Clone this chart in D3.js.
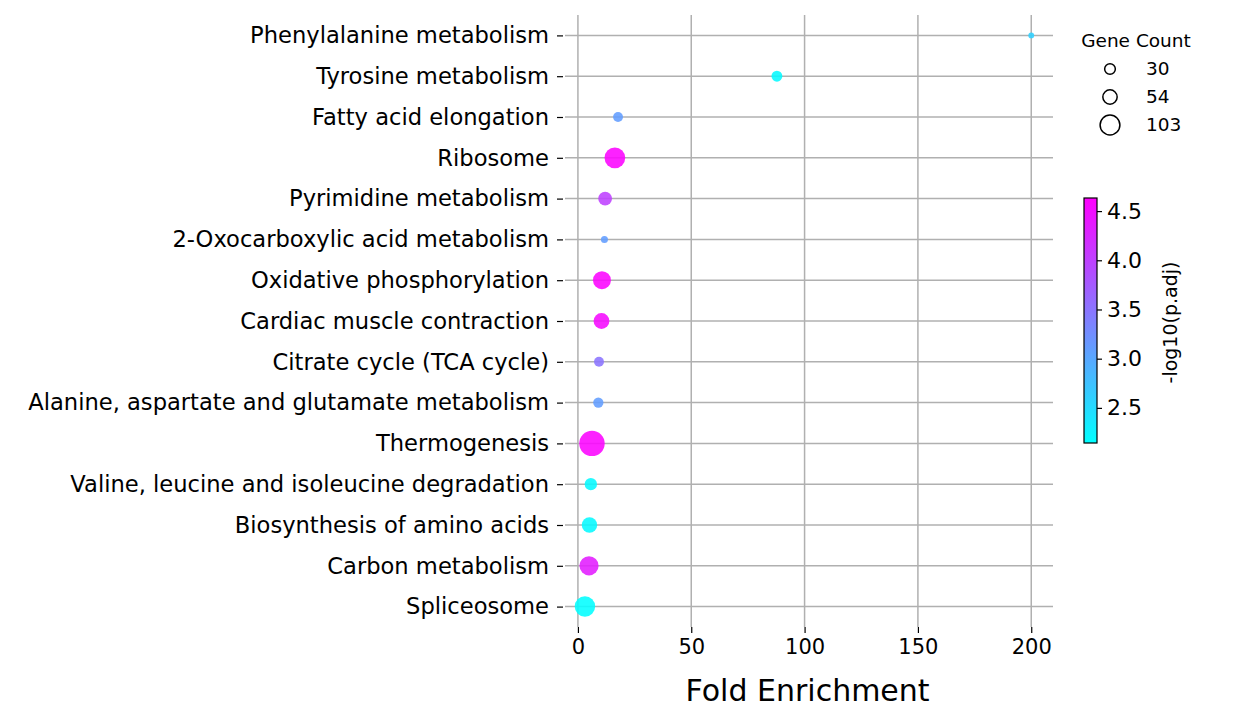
<!DOCTYPE html>
<html>
<head>
<meta charset="utf-8">
<script src="https://cdn.jsdelivr.net/npm/d3@7"></script>
<style>
  body { margin: 0; background: #fff; }
  svg text { font-family: "DejaVu Sans", sans-serif; fill: #000; }
</style>
</head>
<body>
<div id="chart"></div>
<script>

// DATA

var pathways = [
    'Phenylalanine metabolism',
    'Tyrosine metabolism',
    'Fatty acid elongation',
    'Ribosome',
    'Pyrimidine metabolism',
    '2-Oxocarboxylic acid metabolism',
    'Oxidative phosphorylation',
    'Cardiac muscle contraction',
    'Citrate cycle (TCA cycle)',
    'Alanine, aspartate and glutamate metabolism',
    'Thermogenesis',
    'Valine, leucine and isoleucine degradation',
    'Biosynthesis of amino acids',
    'Carbon metabolism',
    'Spliceosome'
];
var foldEnrichment = [200, 87.8, 17.7, 16.3, 12.0, 11.7, 10.6, 10.4, 9.3, 9.0, 6.2, 5.7, 5.1, 4.9, 3.1];
var geneCount      = [9, 31, 26, 113, 50, 13, 85, 66, 26, 28, 170, 40, 63, 97, 110];
var negLogPadj     = [2.6, 2.2, 3.1, 4.6, 4.0, 3.1, 4.6, 4.55, 3.5, 3.1, 4.6, 2.2, 2.2, 4.35, 2.15];

var xTicks         = [0, 50, 100, 150, 200];
var legendCounts   = [30, 54, 103];
var colorTicks     = [2.5, 3.0, 3.5, 4.0, 4.5];
var colorExtent    = [2.143, 4.633];


// HELPERS

// matplotlib "cool" colormap
function cool( t ) {
    t = Math.max( 0, Math.min( 1, t ) );
    return d3.rgb( Math.round( 255 * t ), Math.round( 255 * ( 1 - t ) ), 255 ).formatHex();
}


// LAYOUT

var width = 1240, height = 718;
var plot = { left: 565, right: 1053, top: 15, bottom: 627 };

var svg = d3.select( '#chart' ).append( 'svg' )
    .attr( 'width', width )
    .attr( 'height', height );

var xScale = d3.scaleLinear()
    .domain( [-5.7, 209.6] )
    .range( [plot.left, plot.right] );

var yScale = d3.scalePoint()
    .domain( pathways )
    .range( [plot.top, plot.bottom] )
    .padding( 0.5 );

var rScale = d3.scaleSqrt()
    .domain( [0, 103] )
    .range( [0, 9.9] );

var cScale = d3.scaleLinear()
    .domain( colorExtent )
    .range( [0, 1] );

var gridColor = '#b0b0b0';

// Grid lines
var grid = svg.append( 'g' ).attr( 'class', 'grid' );

grid.selectAll( 'line.v' )
    .data( xTicks )
    .enter().append( 'line' )
    .attr( 'class', 'v' )
    .attr( 'x1', function( d ) { return xScale( d ); } )
    .attr( 'x2', function( d ) { return xScale( d ); } )
    .attr( 'y1', plot.top )
    .attr( 'y2', plot.bottom )
    .attr( 'stroke', gridColor )
    .attr( 'stroke-width', 1.5 );

grid.selectAll( 'line.h' )
    .data( pathways )
    .enter().append( 'line' )
    .attr( 'class', 'h' )
    .attr( 'x1', plot.left )
    .attr( 'x2', plot.right )
    .attr( 'y1', function( d ) { return yScale( d ); } )
    .attr( 'y2', function( d ) { return yScale( d ); } )
    .attr( 'stroke', gridColor )
    .attr( 'stroke-width', 1.5 );

// Axes (no spines)
var xAxis = d3.axisBottom( xScale )
    .tickValues( xTicks )
    .tickSize( 6 )
    .tickPadding( 5 );

var yAxis = d3.axisLeft( yScale )
    .tickSize( 6 )
    .tickPadding( 8 );

var gx = svg.append( 'g' )
    .attr( 'transform', 'translate(0,' + plot.bottom + ')' )
    .call( xAxis );

var gy = svg.append( 'g' )
    .attr( 'transform', 'translate(' + ( plot.left - 2 ) + ',0)' )
    .call( yAxis );

[gx, gy].forEach( function( g ) {
    g.select( '.domain' ).remove();
    g.selectAll( '.tick line' ).attr( 'stroke', '#000' ).attr( 'stroke-width', 1.2 );
    g.selectAll( '.tick text' )
        .attr( 'font-family', '"DejaVu Sans", sans-serif' )
        .attr( 'fill', '#000' );
} );

gy.selectAll( '.tick text' ).attr( 'font-size', 22.6 );
gx.selectAll( '.tick text' ).attr( 'font-size', 21 ).attr( 'dy', '0.75em' );

svg.append( 'text' )
    .attr( 'x', ( xScale( 0 ) + xScale( 200 ) ) / 2 + 3 )
    .attr( 'y', 701 )
    .attr( 'text-anchor', 'middle' )
    .attr( 'font-size', 30 )
    .text( 'Fold Enrichment' );

// Points
var rows = pathways.map( function( p, i ) {
    return { name: p, fe: foldEnrichment[i], count: geneCount[i], p: negLogPadj[i] };
} );

svg.append( 'g' ).attr( 'class', 'points' )
    .selectAll( 'circle' )
    .data( rows )
    .enter().append( 'circle' )
    .attr( 'cx', function( d ) { return xScale( d.fe ); } )
    .attr( 'cy', function( d ) { return yScale( d.name ); } )
    .attr( 'r', function( d ) { return rScale( d.count ); } )
    .attr( 'fill', function( d ) { return cool( cScale( d.p ) ); } )
    .attr( 'fill-opacity', 0.88 );

// Size legend
var legend = svg.append( 'g' ).attr( 'class', 'legend' );

legend.append( 'text' )
    .attr( 'x', 1136 )
    .attr( 'y', 47 )
    .attr( 'text-anchor', 'middle' )
    .attr( 'font-size', 18.5 )
    .text( 'Gene Count' );

var items = legend.selectAll( 'g.item' )
    .data( legendCounts )
    .enter().append( 'g' )
    .attr( 'class', 'item' )
    .attr( 'transform', function( d, i ) { return 'translate(1110,' + ( 69 + i * 28 ) + ')'; } );

items.append( 'circle' )
    .attr( 'r', function( d ) { return rScale( d ); } )
    .attr( 'fill', 'none' )
    .attr( 'stroke', '#000' )
    .attr( 'stroke-width', 1.5 );

items.append( 'text' )
    .attr( 'x', 36 )
    .attr( 'dy', '0.35em' )
    .attr( 'font-size', 18.5 )
    .text( function( d ) { return d; } );

// Colorbar
var cb = { x: 1084, y: 198, w: 13, h: 245 };

var defs = svg.append( 'defs' );
var grad = defs.append( 'linearGradient' )
    .attr( 'id', 'coolGrad' )
    .attr( 'x1', 0 ).attr( 'y1', 1 )
    .attr( 'x2', 0 ).attr( 'y2', 0 );

d3.range( 0, 1.0001, 0.1 ).forEach( function( t ) {
    grad.append( 'stop' )
        .attr( 'offset', t )
        .attr( 'stop-color', cool( t ) );
} );

svg.append( 'rect' )
    .attr( 'x', cb.x )
    .attr( 'y', cb.y )
    .attr( 'width', cb.w )
    .attr( 'height', cb.h )
    .attr( 'fill', 'url(#coolGrad)' )
    .attr( 'stroke', '#000' )
    .attr( 'stroke-width', 1.2 );

var cbScale = d3.scaleLinear()
    .domain( colorExtent )
    .range( [cb.y + cb.h, cb.y] );

var gc = svg.append( 'g' )
    .attr( 'transform', 'translate(' + ( cb.x + cb.w ) + ',0)' )
    .call( d3.axisRight( cbScale ).tickValues( colorTicks ).tickFormat( d3.format( '.1f' ) ).tickSize( 5 ).tickPadding( 5 ) );

gc.select( '.domain' ).remove();
gc.selectAll( '.tick line' ).attr( 'stroke', '#000' ).attr( 'stroke-width', 1.2 );
gc.selectAll( '.tick text' )
    .attr( 'font-size', 22 )
    .attr( 'font-family', '"DejaVu Sans", sans-serif' )
    .attr( 'fill', '#000' );

svg.append( 'text' )
    .attr( 'transform', 'translate(1177,' + ( cb.y + cb.h / 2 + 2 ) + ') rotate(-90)' )
    .attr( 'text-anchor', 'middle' )
    .attr( 'font-size', 19 )
    .text( '-log10(p.adj)' );

</script>
</body>
</html>
